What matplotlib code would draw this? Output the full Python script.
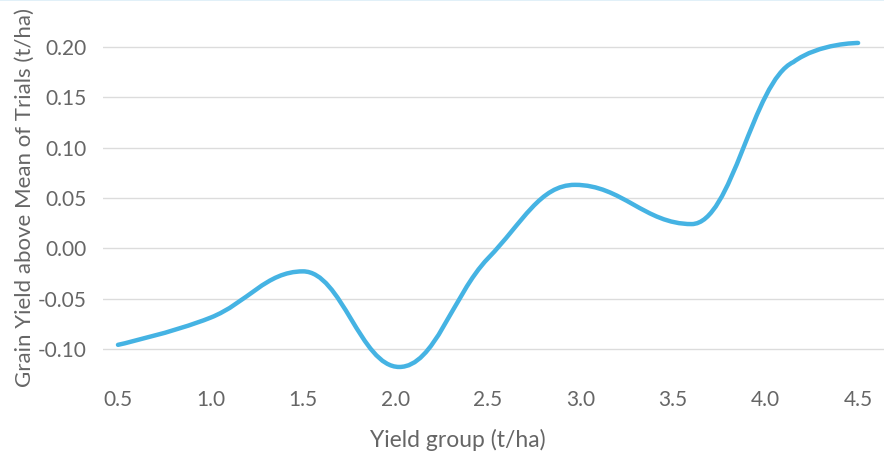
import matplotlib.pyplot as plt
from matplotlib.path import Path
from matplotlib.patches import PathPatch
from matplotlib.lines import Line2D

plt.rcParams['font.family'] = ['Lato', 'DejaVu Sans']

# values
yield_group = [0.5, 1.0, 1.5, 2.02, 2.5, 2.97, 3.6, 4.15, 4.5]
grain_yield = [-0.096, -0.069, -0.023, -0.118, -0.010, 0.063, 0.024, 0.185, 0.204]
x_ticks = [0.5, 1.0, 1.5, 2.0, 2.5, 3.0, 3.5, 4.0, 4.5]
y_ticks = [-0.10, -0.05, 0.00, 0.05, 0.10, 0.15, 0.20]

LINE_COLOR = '#45b3e3'
TEXT_COLOR = '#666666'
GRID_COLOR = '#dcdcdc'


def spline_path(xs, ys, smoothing=1.5):
    """Smooth bezier path through the points (spline-style control points)."""
    denom = smoothing + 1
    n = len(xs)
    left = [(xs[i], ys[i]) for i in range(n)]
    right = [(xs[i], ys[i]) for i in range(n)]
    for i in range(1, n - 1):
        px, py = xs[i], ys[i]
        lx, ly = xs[i - 1], ys[i - 1]
        nx, ny = xs[i + 1], ys[i + 1]
        lcx = (smoothing * px + lx) / denom
        lcy = (smoothing * py + ly) / denom
        rcx = (smoothing * px + nx) / denom
        rcy = (smoothing * py + ny) / denom
        if rcx != lcx:
            corr = (rcy - lcy) * (rcx - px) / (rcx - lcx) + py - rcy
            lcy += corr
            rcy += corr
        if lcy > max(ly, py):
            lcy = max(ly, py)
            rcy = 2 * py - lcy
        elif lcy < min(ly, py):
            lcy = min(ly, py)
            rcy = 2 * py - lcy
        if rcy > max(py, ny):
            rcy = max(py, ny)
            lcy = 2 * py - rcy
        elif rcy < min(py, ny):
            rcy = min(py, ny)
            lcy = 2 * py - rcy
        left[i] = (lcx, lcy)
        right[i] = (rcx, rcy)
    verts = [(xs[0], ys[0])]
    codes = [Path.MOVETO]
    for i in range(1, n):
        verts += [right[i - 1], left[i], (xs[i], ys[i])]
        codes += [Path.CURVE4] * 3
    return Path(verts, codes)


fig = plt.figure(figsize=(8.84, 4.53), dpi=100)
ax = fig.add_axes([103 / 884, 1 - 372 / 453, 1 - 103 / 884, 372 / 453])

# thin light border along the top edge
fig.add_artist(Line2D([0, 1], [0.999, 0.999], transform=fig.transFigure,
                      color='#dcedf7', lw=1.2))

ax.add_patch(PathPatch(spline_path(yield_group, grain_yield), facecolor='none',
                       edgecolor=LINE_COLOR, lw=3.2, capstyle='round', joinstyle='round'))

ax.set_xlim(0.419, 4.64)
ax.set_ylim(-0.123, 0.2467)
ax.set_xticks(x_ticks)
ax.set_xticklabels([f'{v:.1f}' for v in x_ticks])
ax.set_yticks(y_ticks)
ax.set_yticklabels([f'{v:.2f}' for v in y_ticks])
ax.tick_params(axis='both', length=0, labelsize=15, colors=TEXT_COLOR)
ax.tick_params(axis='x', pad=13)
ax.tick_params(axis='y', pad=12)
ax.grid(axis='y', color=GRID_COLOR, lw=1)
ax.set_axisbelow(True)
for s in ax.spines.values():
    s.set_visible(False)

ax.set_xlabel('Yield group (t/ha)', fontsize=16.5, color=TEXT_COLOR)
ax.set_ylabel('Grain Yield above Mean of Trials (t/ha)', fontsize=16, color=TEXT_COLOR)
ax.xaxis.set_label_coords(0.454, -0.152)
ax.yaxis.set_label_coords(-0.087, 0.470)

fig.savefig('out.png', dpi=100)
